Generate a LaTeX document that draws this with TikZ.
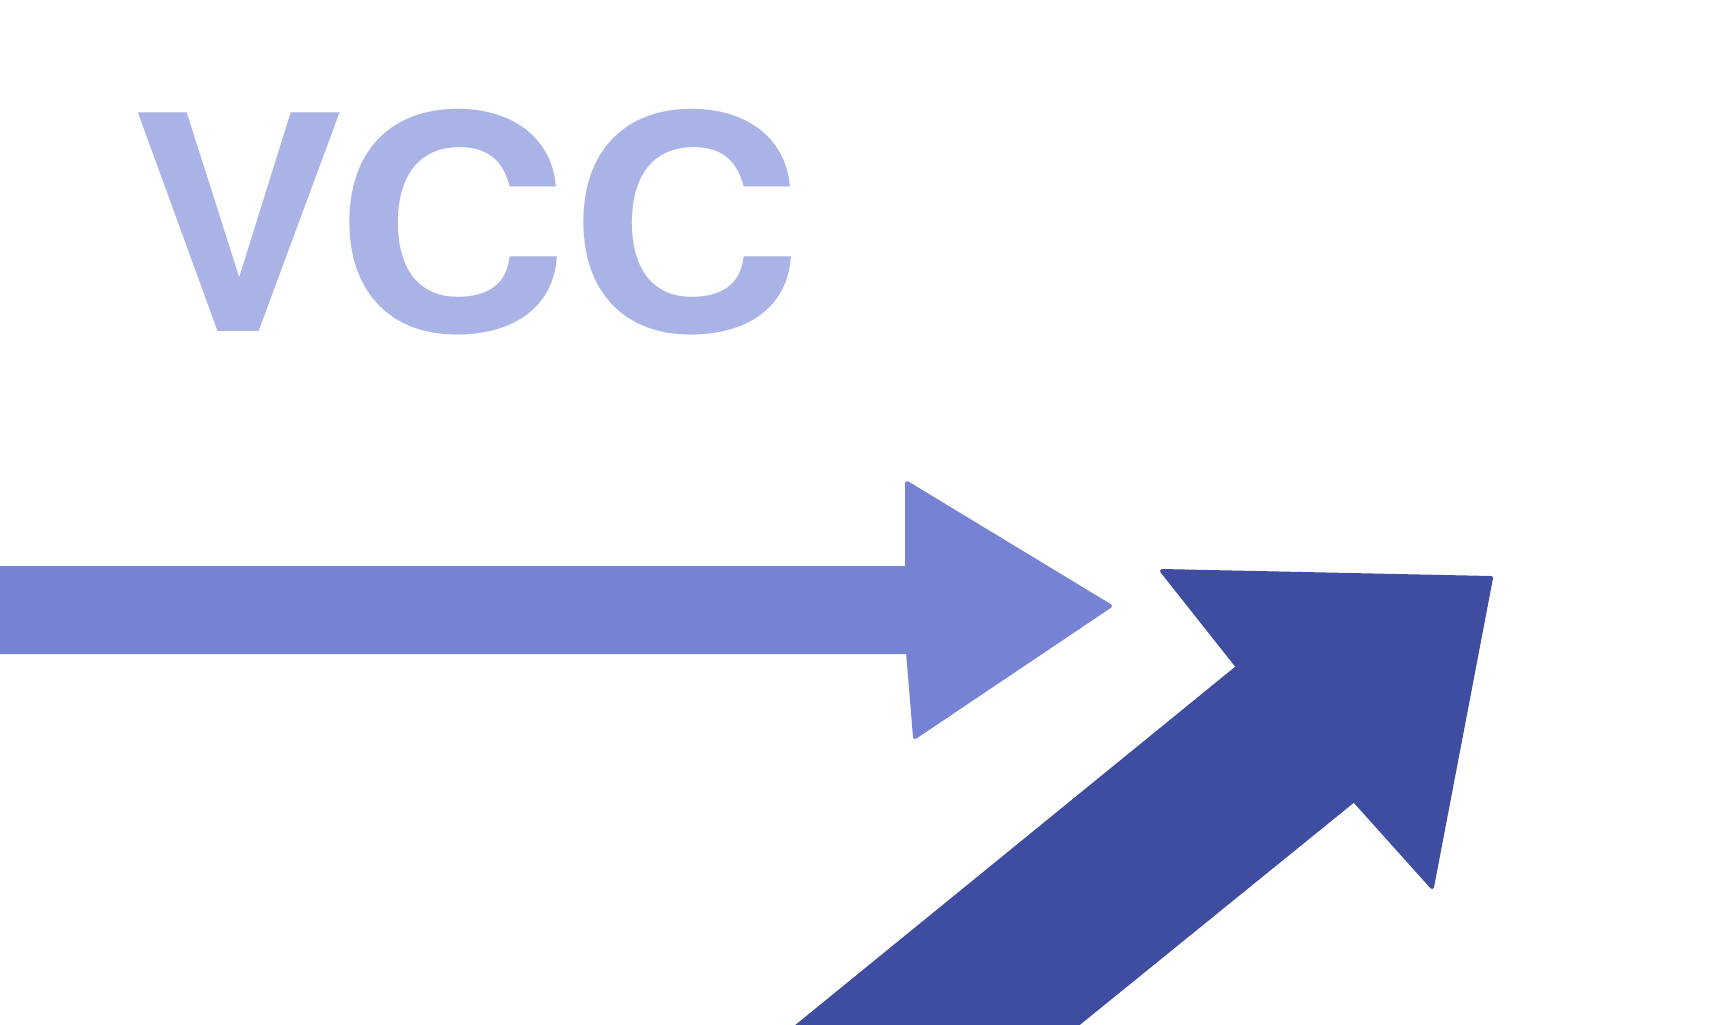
\documentclass[tikz,border=0pt]{standalone}
\usepackage{fontspec}
\setsansfont{TeX Gyre Heros}
\usetikzlibrary{calc}
\definecolor{vcctext}{HTML}{AAB3E6}
\definecolor{flowlight}{HTML}{7682D4}
\definecolor{flowdark}{HTML}{3E4DA0}
\tikzset{
 bigarrow/.style={line width=2pt,line join=round},
 lightflow/.style={bigarrow,fill=flowlight,draw=flowlight},
 darkflow/.style={bigarrow,fill=flowdark,draw=flowdark},
 pinlabel/.style={inner sep=0,anchor=base west,text=vcctext,font=\sffamily\bfseries\fontsize{150}{150}\selectfont}
}
\begin{document}
\begin{tikzpicture}[x=0.5pt,y=-0.5pt]
\path[use as bounding box] (0,0) rectangle (1732,1024);
\clip (0,0) rectangle (1732,1024);
\node[pinlabel] (vcc) at (130,331) {\scalebox{1.08}[1]{VCC}};
% straight arrow
\coordinate (S1) at (-10,568);
\coordinate (S2) at (907,568);
\coordinate (H1) at (907,483);
\coordinate (T1) at (1110,606);
\coordinate (H2) at (915,737);
\coordinate (S3) at (908,652);
\coordinate (S4) at (-10,652);
\draw[lightflow] (S1) -- (S2) -- (H1) -- (T1) -- (H2) -- (S3) -- (S4) -- cycle;
% rising arrow
\coordinate (R1) at (780,1040);
\coordinate (N1) at (1238,667);
\coordinate (K1) at (1162,571);
\coordinate (K2) at (1491,578);
\coordinate (K3) at (1432,887);
\coordinate (N2) at (1354,800);
\coordinate (R2) at (1058,1040);
\draw[darkflow] (R1) -- (N1) -- (K1) -- (K2) -- (K3) -- (N2) -- (R2) -- cycle;
\end{tikzpicture}
\end{document}
